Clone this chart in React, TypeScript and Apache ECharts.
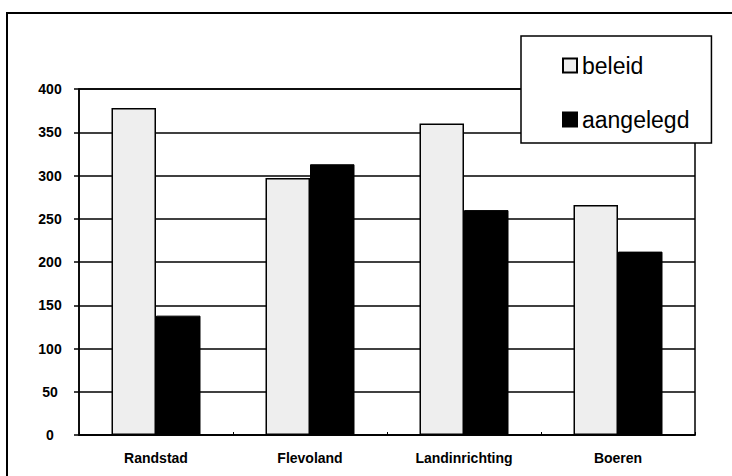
import React, { useEffect, useRef } from "react";
import * as echarts from "echarts";

const categories = ["Randstad", "Flevoland", "Landinrichting", "Boeren"];
const beleid = [378, 297, 360, 266];
const aangelegd = [138, 313, 260, 212];
const seriesNames = ["beleid", "aangelegd"];

const FONT = "Arial, 'Liberation Sans', Helvetica, sans-serif";

export default function App() {
  const ref = useRef<HTMLDivElement>(null);
  useEffect(() => {
    if (!ref.current) return;
    const chart = echarts.init(ref.current, null, { renderer: "svg" });
    chart.setOption({
      animation: false,
      backgroundColor: "#ffffff",
      textStyle: { fontFamily: FONT },
      graphic: [
        {
          type: "rect",
          shape: { x: 7, y: 13, width: 760, height: 500 },
          style: { fill: "none", stroke: "#000", lineWidth: 2 },
          silent: true,
          z: 0,
        },
      ],
      grid: {
        left: 79,
        right: 37,
        top: 89,
        bottom: 41,
        show: true,
        borderColor: "#000",
        borderWidth: 1.5,
        backgroundColor: "transparent",
      },
      legend: {
        orient: "vertical",
        left: 521,
        top: 36,
        padding: [18, 22, 12, 41],
        itemGap: 31,
        itemWidth: 14,
        itemHeight: 14,
        icon: "rect",
        backgroundColor: "#ffffff",
        borderColor: "#000",
        borderWidth: 1.5,
        borderRadius: 0,
        z: 10,
        data: seriesNames,
        textStyle: {
          fontFamily: FONT,
          fontSize: 23,
          lineHeight: 23,
          color: "#000",
        },
      },
      xAxis: {
        type: "category",
        data: categories,
        axisLine: { show: true, lineStyle: { color: "#000", width: 1.5 } },
        axisTick: { show: true, inside: true, length: 3, lineStyle: { color: "#000" } },
        axisLabel: {
          margin: 16,
          fontFamily: FONT,
          fontSize: 14,
          fontWeight: "bold",
          color: "#000",
        },
        splitLine: { show: false },
      },
      yAxis: {
        type: "value",
        min: 0,
        max: 400,
        interval: 50,
        axisLine: { show: true, lineStyle: { color: "#000", width: 1.5 } },
        axisTick: { show: true, inside: false, length: 5, lineStyle: { color: "#000", width: 1.5 } },
        axisLabel: {
          margin: 29,
          align: "center",
          fontFamily: FONT,
          fontSize: 14,
          fontWeight: "bold",
          color: "#000",
        },
        splitLine: { show: true, lineStyle: { color: "#000", width: 1.5 } },
      },
      series: [
        {
          name: seriesNames[0],
          type: "bar",
          data: beleid,
          barWidth: 44.5,
          barGap: "0%",
          itemStyle: { color: "#eeeeee", borderColor: "#000", borderWidth: 1.5 },
        },
        {
          name: seriesNames[1],
          type: "bar",
          data: aangelegd,
          barWidth: 44.5,
          barGap: "0%",
          itemStyle: { color: "#000000", borderColor: "#000", borderWidth: 1 },
        },
      ],
    });
    return () => chart.dispose();
  }, []);
  return (
    <div
      ref={ref}
      style={{ position: "fixed", left: 0, top: 0, width: 732, height: 476 }}
    />
  );
}
